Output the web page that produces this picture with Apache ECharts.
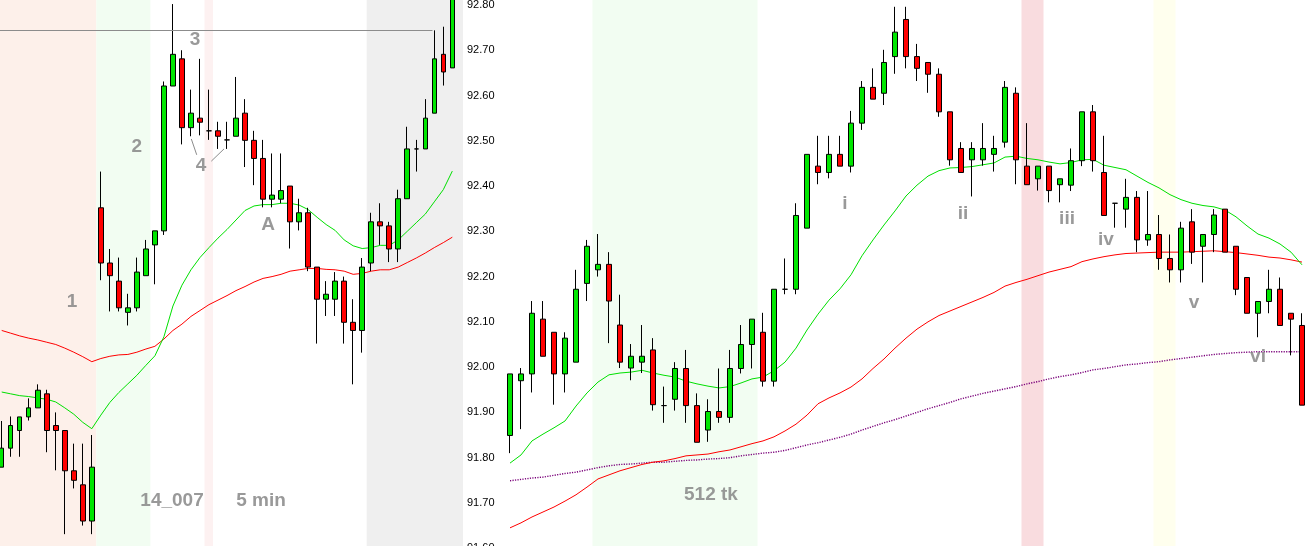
<!DOCTYPE html>
<html><head><meta charset="utf-8">
<script src="https://cdn.jsdelivr.net/npm/echarts@6/dist/echarts.min.js"></script>
<style>html,body{margin:0;padding:0;background:#fff;overflow:hidden}#c{width:1313px;height:546px;}</style>
</head><body><div id="c"></div>
<script>
// ---------- Left panel: 5 min ----------
const leftOpen  = [91.779,91.821,91.860,91.890,91.910,91.941,91.871,91.860,91.771,91.740,91.660,92.352,92.230,92.190,92.121,92.131,92.202,92.270,92.301,92.621,92.681,92.529,92.550,92.522,92.522,92.502,92.510,92.561,92.501,92.461,92.371,92.371,92.400,92.321,92.341,92.221,92.150,92.150,92.190,92.099,92.081,92.230,92.321,92.312,92.261,92.372,92.482,92.482,92.561,92.691,92.661];
const leftClose = [91.821,91.871,91.890,91.910,91.949,91.860,91.860,91.771,91.750,91.660,91.779,92.230,92.202,92.131,92.131,92.210,92.261,92.301,92.621,92.691,92.529,92.561,92.541,92.522,92.510,92.502,92.550,92.501,92.461,92.371,92.380,92.390,92.321,92.341,92.221,92.150,92.161,92.190,92.099,92.081,92.221,92.321,92.312,92.261,92.372,92.482,92.482,92.550,92.681,92.652,92.820];
const leftLow   = [91.779,91.802,91.802,91.882,91.910,91.812,91.772,91.631,91.732,91.650,91.631,92.192,92.123,92.123,92.092,92.123,92.202,92.183,92.292,92.621,92.492,92.510,92.512,92.502,92.482,92.482,92.510,92.442,92.402,92.353,92.353,92.362,92.262,92.302,92.212,92.052,92.113,92.113,92.052,91.962,92.032,92.212,92.270,92.232,92.232,92.372,92.432,92.482,92.561,92.622,92.661];
const leftHigh  = [91.881,91.891,91.890,91.931,91.962,91.950,91.900,91.860,91.831,91.831,91.850,92.432,92.261,92.242,92.162,92.242,92.281,92.301,92.631,92.802,92.700,92.613,92.681,92.613,92.542,92.542,92.641,92.592,92.522,92.502,92.472,92.472,92.400,92.372,92.352,92.221,92.190,92.210,92.200,92.150,92.241,92.341,92.362,92.321,92.392,92.531,92.502,92.592,92.744,92.752,92.850];
const leftMaFast = [91.945,91.941,91.937,91.935,91.932,91.929,91.923,91.910,91.896,91.878,91.864,91.894,91.922,91.944,91.963,91.982,92.004,92.025,92.067,92.135,92.181,92.215,92.242,92.264,92.285,92.304,92.325,92.346,92.356,92.359,92.359,92.362,92.362,92.358,92.348,92.331,92.315,92.302,92.281,92.268,92.262,92.264,92.269,92.269,92.281,92.300,92.319,92.338,92.365,92.392,92.433];
const leftMaSlow = [92.081,92.075,92.069,92.064,92.060,92.055,92.050,92.042,92.033,92.023,92.012,92.019,92.024,92.027,92.028,92.033,92.040,92.046,92.062,92.081,92.095,92.112,92.125,92.138,92.148,92.158,92.169,92.178,92.188,92.196,92.200,92.205,92.212,92.215,92.218,92.218,92.216,92.215,92.212,92.205,92.207,92.212,92.215,92.215,92.221,92.231,92.241,92.252,92.264,92.275,92.287];
// background bands (in bar units): [from, to, colour]
const leftBands = [[-0.19,10.5,'#fdf0ea'],[10.5,16.5,'#f2fdf2'],[22.5,23.45,'#fdf1f1'],[40.5,51.2,'#efefef']];
const leftLevel = 92.744;           // horizontal reference line
const leftLevelEnd = 47.8;
const leftNotes = [[7.8,92.144,'1'],[15.0,92.486,'2'],[21.46,92.723,'3'],[22.12,92.444,'4'],[29.56,92.314,'A'],[18.9,91.704,'14_007'],[28.78,91.704,'5 min']];
const leftLeaders = [[[21.04,92.504],[21.64,92.469]],[[23.26,92.455],[24.67,92.482]]];

// ---------- Right panel: 512 tick ----------
const rightOpen  = [91.849,91.970,91.985,92.106,92.077,91.985,92.011,92.185,92.215,92.227,92.093,91.998,92.011,92.038,91.915,91.929,91.997,91.915,91.861,91.902,91.889,91.997,92.050,92.077,91.969,92.172,92.172,92.307,92.444,92.430,92.470,92.444,92.539,92.618,92.605,92.686,92.768,92.686,92.673,92.647,92.564,92.483,92.458,92.458,92.470,92.497,92.605,92.444,92.416,92.444,92.403,92.402,92.456,92.564,92.430,92.362,92.349,92.375,92.281,92.293,92.240,92.215,92.321,92.267,92.293,92.349,92.267,92.198,92.119,92.145,92.172,92.119,92.092];
const rightClose = [91.985,91.985,92.119,92.024,91.985,92.064,92.172,92.267,92.227,92.146,92.011,92.024,92.024,91.917,91.915,91.997,91.915,91.834,91.902,91.889,91.997,92.050,92.106,91.969,92.172,92.172,92.335,92.470,92.430,92.470,92.444,92.539,92.618,92.592,92.673,92.740,92.686,92.660,92.647,92.564,92.458,92.430,92.483,92.483,92.483,92.618,92.458,92.403,92.444,92.390,92.416,92.456,92.564,92.456,92.335,92.362,92.375,92.281,92.293,92.240,92.215,92.307,92.254,92.293,92.336,92.254,92.172,92.119,92.145,92.172,92.092,92.106,91.916];
const rightLow   = [91.810,91.863,91.944,92.024,91.917,91.944,92.011,92.146,92.200,92.053,91.998,91.971,91.987,91.904,91.877,91.904,91.877,91.834,91.835,91.877,91.877,91.986,91.997,91.957,91.957,92.161,92.161,92.307,92.404,92.417,92.444,92.430,92.524,92.592,92.579,92.648,92.660,92.632,92.606,92.553,92.445,92.430,92.377,92.445,92.432,92.485,92.404,92.403,92.390,92.364,92.364,92.389,92.444,92.432,92.335,92.308,92.308,92.254,92.268,92.215,92.187,92.187,92.228,92.187,92.254,92.254,92.159,92.119,92.066,92.119,92.092,92.026,91.916];
const rightHigh  = [91.985,91.998,92.146,92.146,92.077,92.077,92.215,92.281,92.294,92.254,92.160,92.051,92.093,92.064,91.957,92.011,92.038,91.942,91.929,91.997,92.038,92.093,92.106,92.120,92.172,92.240,92.362,92.470,92.511,92.511,92.511,92.566,92.632,92.660,92.701,92.796,92.796,92.714,92.673,92.660,92.564,92.497,92.497,92.539,92.511,92.632,92.618,92.539,92.444,92.444,92.416,92.483,92.564,92.579,92.511,92.362,92.416,92.389,92.389,92.336,92.293,92.321,92.349,92.293,92.349,92.349,92.267,92.198,92.145,92.215,92.198,92.119,92.119];
const rightMaFast = [91.788,91.806,91.837,91.852,91.866,91.881,91.914,91.943,91.967,91.983,91.987,91.989,91.993,91.987,91.982,91.978,91.969,91.963,91.958,91.954,91.957,91.965,91.974,91.978,91.992,92.011,92.042,92.082,92.117,92.148,92.173,92.204,92.246,92.281,92.314,92.345,92.378,92.402,92.422,92.434,92.440,92.441,92.443,92.447,92.451,92.464,92.466,92.461,92.458,92.453,92.449,92.452,92.458,92.459,92.446,92.441,92.436,92.422,92.408,92.396,92.381,92.370,92.362,92.357,92.354,92.347,92.332,92.312,92.294,92.285,92.272,92.254,92.226];
const rightMaMid = [91.645,91.656,91.669,91.680,91.691,91.704,91.718,91.735,91.753,91.762,91.771,91.778,91.785,91.790,91.793,91.798,91.804,91.806,91.808,91.813,91.817,91.824,91.831,91.837,91.846,91.859,91.874,91.894,91.919,91.932,91.943,91.956,91.974,91.997,92.018,92.042,92.064,92.084,92.100,92.114,92.124,92.134,92.144,92.154,92.165,92.179,92.187,92.194,92.202,92.210,92.216,92.222,92.233,92.239,92.244,92.248,92.251,92.252,92.253,92.254,92.254,92.254,92.255,92.256,92.257,92.255,92.253,92.250,92.247,92.243,92.241,92.237,92.232];
const rightMaSlow = [91.749,91.752,91.755,91.757,91.761,91.765,91.768,91.773,91.778,91.782,91.785,91.786,91.788,91.790,91.790,91.792,91.794,91.795,91.797,91.798,91.800,91.804,91.807,91.810,91.812,91.816,91.822,91.828,91.833,91.839,91.845,91.852,91.861,91.869,91.877,91.884,91.892,91.900,91.908,91.915,91.922,91.930,91.936,91.942,91.947,91.952,91.957,91.963,91.968,91.974,91.979,91.983,91.988,91.994,91.997,92.001,92.005,92.007,92.010,92.012,92.016,92.019,92.022,92.025,92.028,92.030,92.032,92.033,92.034,92.034,92.034,92.034,92.034];
const rightBands = [[7.5,22.5,'#f2fdf2'],[46.5,48.5,'#f9dcdf'],[58.5,60.5,'#ffffee']];
const rightNotes = [[30.45,92.360,'i'],[41.18,92.338,'ii'],[50.64,92.327,'iii'],[54.18,92.281,'iv'],[62.18,92.142,'v'],[68.0,92.022,'vi'],[18.27,91.718,'512 tk']];

// price axis
const priceMin = 91.6, priceMax = 92.811, priceStep = 0.1;

const UP = '#00e600', DOWN = '#ff0000';
function ohlc(o, c, l, h) { return o.map((v, i) => [i, v, c[i], l[i], h[i]]); }
function pts(a) { return a.map((v, i) => [i, v]); }
function bands(b) { return b.map(d => [{ xAxis: d[0], itemStyle: { color: d[2] } }, { xAxis: d[1] }]); }
const noteLabel = {
  show: true, position: 'inside', formatter: p => p.data[2],
  color: '#7f7f7f', fontWeight: 'bold', fontSize: 19, fontFamily: 'Liberation Sans, Arial, sans-serif'
};

const chart = echarts.init(document.getElementById('c'), null, { renderer: 'canvas' });
chart.setOption({
  animation: false,
  backgroundColor: '#ffffff',
  grid: [
    { left: 0, top: 0, width: 463, height: 548.2, containLabel: false, outerBoundsMode: 'none' },
    { left: 498, top: 0, width: 815, height: 548.2, containLabel: false, outerBoundsMode: 'none' }
  ],
  xAxis: [
    { type: 'value', gridIndex: 0, min: -0.189, max: 51.187, show: false },
    { type: 'value', gridIndex: 1, min: -1.091, max: 73.0, show: false }
  ],
  yAxis: [
    { type: 'value', gridIndex: 0, position: 'right', min: priceMin, max: priceMax, interval: priceStep,
      axisLine: { show: true, lineStyle: { color: '#000', width: 1 } },
      axisTick: { show: true, length: 3, lineStyle: { color: '#000' } },
      splitLine: { show: false },
      axisLabel: { show: true, showMaxLabel: false, margin: 4, color: '#000', fontSize: 11,
        fontFamily: 'Liberation Sans, Arial, sans-serif', formatter: v => v.toFixed(2) } },
    { type: 'value', gridIndex: 1, min: priceMin, max: priceMax, show: false, splitLine: { show: false } }
  ],
  series: [
    { type: 'line', xAxisIndex: 0, yAxisIndex: 0, data: pts(leftMaSlow), showSymbol: false, silent: true,
      lineStyle: { color: '#ff0000', width: 1 }, z: 3,
      markArea: { silent: true, label: { show: false }, data: bands(leftBands) },
      markLine: { silent: true, symbol: ['none', 'none'], label: { show: false }, animation: false,
        lineStyle: { color: '#8c8c8c', width: 1, type: 'solid' },
        data: [[{ coord: [-0.189, leftLevel] }, { coord: [leftLevelEnd, leftLevel] }]]
          .concat(leftLeaders.map(s => [{ coord: s[0] }, { coord: s[1] }])) } },
    { type: 'line', xAxisIndex: 0, yAxisIndex: 0, data: pts(leftMaFast), showSymbol: false, silent: true,
      lineStyle: { color: '#00e000', width: 1 }, z: 3 },
    { type: 'candlestick', xAxisIndex: 0, yAxisIndex: 0, data: ohlc(leftOpen, leftClose, leftLow, leftHigh),
      barWidth: 5, silent: true, z: 4,
      itemStyle: { color: UP, color0: DOWN, borderColor: '#000', borderColor0: '#000', borderWidth: 1 } },
    { type: 'scatter', xAxisIndex: 0, yAxisIndex: 0, data: leftNotes, symbolSize: 1, silent: true, z: 6,
      itemStyle: { color: 'rgba(0,0,0,0)' }, label: noteLabel },

    { type: 'line', xAxisIndex: 1, yAxisIndex: 1, data: pts(rightMaSlow), showSymbol: false, silent: true,
      lineStyle: { color: '#7a007a', width: 1.4, type: [1.2, 1.3] }, z: 3,
      markArea: { silent: true, label: { show: false }, data: bands(rightBands) } },
    { type: 'line', xAxisIndex: 1, yAxisIndex: 1, data: pts(rightMaMid), showSymbol: false, silent: true,
      lineStyle: { color: '#ff0000', width: 1 }, z: 3 },
    { type: 'line', xAxisIndex: 1, yAxisIndex: 1, data: pts(rightMaFast), showSymbol: false, silent: true,
      lineStyle: { color: '#00e000', width: 1 }, z: 3 },
    { type: 'candlestick', xAxisIndex: 1, yAxisIndex: 1, data: ohlc(rightOpen, rightClose, rightLow, rightHigh),
      barWidth: 6, silent: true, z: 4,
      itemStyle: { color: UP, color0: DOWN, borderColor: '#000', borderColor0: '#000', borderWidth: 1 } },
    { type: 'scatter', xAxisIndex: 1, yAxisIndex: 1, data: rightNotes, symbolSize: 1, silent: true, z: 6,
      itemStyle: { color: 'rgba(0,0,0,0)' }, label: noteLabel }
  ]
});
</script>
</body></html>
